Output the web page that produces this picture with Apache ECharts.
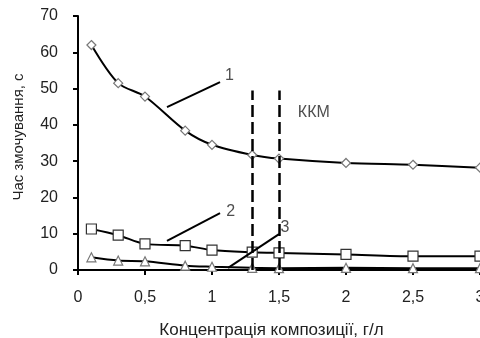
<!DOCTYPE html>
<html><head><meta charset="utf-8">
<script src="https://cdn.jsdelivr.net/npm/echarts@6/dist/echarts.min.js"></script>
<style>html,body{margin:0;padding:0;background:#fff}#c{width:480px;height:338px}</style>
</head><body><div id="c"></div>
<script>
const xValues = [0.1, 0.3, 0.5, 0.8, 1.0, 1.3, 1.5, 2.0, 2.5, 3.0];
const series1 = [62, 51.5, 47.8, 38.4, 34.5, 31.7, 30.7, 29.5, 29.0, 28.2];
const series2 = [11.3, 9.6, 7.2, 6.7, 5.5, 4.9, 4.7, 4.3, 3.8, 3.8];
const series3 = [3.5, 2.6, 2.4, 1.2, 0.9, 0.6, 0.5, 0.6, 0.5, 0.5];
const cmcX = [1.3, 1.5];
const cmcTop = 49.5;
const cmcLabel = 'ККМ';
const cmcLabelPos = [1.76, 43.3];
const curveLabels = ['1', '2', '3'];
const leaderFrom = [[0.664, 44.9], [0.664, 8.0], [1.12, 0.6]];
const leaderTo = [[1.06, 51.8], [1.06, 15.7], [1.5, 9.9]];
const labelPos = [[1.13, 53.7], [1.14, 16.2], [1.545, 11.6]];
const xTitle = 'Концентрація композиції, г/л';
const yTitle = 'Час змочування, с';

const font = 'Liberation Sans, Arial, sans-serif';
const txt = '#222';
const fs = 16;
const pair = (ys) => xValues.map((x, i) => [x, ys[i]]);

const markLines = [];
cmcX.forEach(x => markLines.push([{coord: [x, 0], lineStyle: {type: [12, 5], width: 2.5, color: '#000'}}, {coord: [x, cmcTop]}]));
leaderFrom.forEach((f, i) => markLines.push([{coord: f, lineStyle: {type: 'solid', width: 2, color: '#000'}}, {coord: leaderTo[i]}]));

const textPts = labelPos.map((p, i) => ({value: p, name: curveLabels[i]}));
textPts.push({value: cmcLabelPos, name: cmcLabel});

const chart = echarts.init(document.getElementById('c'));
chart.setOption({
  animation: false,
  grid: {left: 78, right: 0, top: 16, bottom: 68, containLabel: false, outerBoundsMode: 'none'},
  xAxis: {
    type: 'value', min: 0, max: 3, interval: 0.5,
    name: xTitle, nameLocation: 'middle', nameGap: 52,
    nameTextStyle: {fontFamily: font, fontSize: 17, color: txt, padding: [0, 15, 0, 0]},
    axisLine: {lineStyle: {color: '#000', width: 2}},
    axisTick: {show: true, length: 5, lineStyle: {color: '#000', width: 2}},
    splitLine: {show: false},
    axisLabel: {fontFamily: font, fontSize: fs, color: txt, margin: 20, hideOverlap: false,
      formatter: v => String(v).replace('.', ',')}
  },
  yAxis: {
    type: 'value', min: 0, max: 70, interval: 10,
    name: yTitle, nameLocation: 'middle', nameGap: 52, nameRotate: 90,
    nameTextStyle: {fontFamily: font, fontSize: 15, color: txt, padding: [0, 0, 0, 12]},
    axisLine: {show: true, lineStyle: {color: '#000', width: 2}},
    axisTick: {show: true, length: 5, lineStyle: {color: '#000', width: 2}},
    splitLine: {show: false},
    axisLabel: {fontFamily: font, fontSize: fs, color: txt, margin: 20}
  },
  series: [
    {type: 'line', data: pair(series1), smooth: 0.3, symbol: 'diamond', symbolSize: 9,
      lineStyle: {color: '#000', width: 2}, itemStyle: {color: '#fff', borderColor: '#777', borderWidth: 1.2}, z: 3},
    {type: 'line', data: pair(series2), smooth: 0.3, symbol: 'rect', symbolSize: 10,
      lineStyle: {color: '#000', width: 2}, itemStyle: {color: '#fff', borderColor: '#333', borderWidth: 1.2}, z: 3},
    {type: 'line', data: pair(series3), smooth: 0.3, symbol: 'triangle', symbolSize: 9,
      lineStyle: {color: '#000', width: 2}, itemStyle: {color: '#fff', borderColor: '#777', borderWidth: 1.2}, z: 3,
      markLine: {silent: true, symbol: ['none', 'none'], label: {show: false}, data: markLines}},
    {type: 'scatter', data: textPts, symbolSize: 1, itemStyle: {color: 'rgba(0,0,0,0)'},
      label: {show: true, position: 'inside', formatter: p => p.name, fontFamily: font, fontSize: fs, color: txt}, z: 5}
  ]
});
</script></body></html>
